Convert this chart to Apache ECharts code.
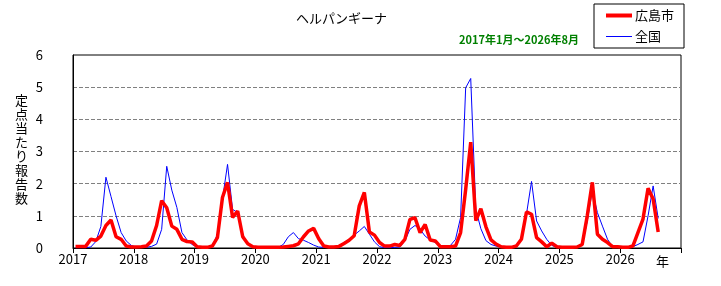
<!DOCTYPE html>
<html>
<head>
<meta charset="utf-8">
<script src="https://cdn.jsdelivr.net/npm/echarts@6/dist/echarts.min.js"></script>
<style>
  html, body { margin: 0; padding: 0; background: #fff; }
  #chart { width: 721px; height: 286px; }
</style>
</head>
<body>
<div id="chart"></div>
<script>
  // monthly values, 2017-01 .. 2026-08
  const hiroshima = [
    0.05, 0.05, 0.05, 0.27, 0.24, 0.37, 0.70, 0.87, 0.35, 0.27, 0.06, 0.03,
    0.03, 0.04, 0.06, 0.22, 0.70, 1.47, 1.25, 0.68, 0.58, 0.27, 0.20, 0.19,
    0.04, 0.02, 0.02, 0.06, 0.32, 1.57, 2.04, 0.95, 1.15, 0.35, 0.13, 0.04,
    0.02, 0.02, 0.02, 0.02, 0.02, 0.03, 0.05, 0.07, 0.13, 0.35, 0.53, 0.61,
    0.29, 0.06, 0.03, 0.03, 0.05, 0.14, 0.24, 0.38, 1.31, 1.73, 0.50, 0.40,
    0.17, 0.06, 0.06, 0.11, 0.08, 0.27, 0.89, 0.94, 0.48, 0.73, 0.25, 0.22,
    0.04, 0.04, 0.04, 0.06, 0.48, 1.82, 3.29, 0.85, 1.22, 0.66, 0.25, 0.12,
    0.04, 0.02, 0.02, 0.06, 0.27, 1.12, 1.05, 0.32, 0.19, 0.04, 0.15, 0.04,
    0.02, 0.02, 0.02, 0.03, 0.11, 1.00, 2.04, 0.43, 0.27, 0.17, 0.04, 0.04,
    0.02, 0.02, 0.06, 0.48, 0.90, 1.86, 1.52, 0.50
  ];
  const national = [
    0.01, 0.01, 0.01, 0.03, 0.20, 0.67, 2.20, 1.60, 1.00, 0.48, 0.22, 0.08,
    0.03, 0.02, 0.02, 0.05, 0.12, 0.58, 2.54, 1.80, 1.26, 0.48, 0.25, 0.11,
    0.03, 0.02, 0.02, 0.04, 0.43, 1.52, 2.60, 1.20, 1.10, 0.42, 0.11, 0.04,
    0.02, 0.02, 0.02, 0.02, 0.02, 0.11, 0.35, 0.48, 0.29, 0.24, 0.17, 0.09,
    0.03, 0.02, 0.01, 0.02, 0.08, 0.17, 0.27, 0.40, 0.53, 0.67, 0.43, 0.19,
    0.04, 0.01, 0.01, 0.02, 0.03, 0.22, 0.58, 0.70, 0.58, 0.37, 0.25, 0.17,
    0.06, 0.04, 0.08, 0.27, 0.95, 4.98, 5.27, 1.20, 0.60, 0.23, 0.11, 0.06,
    0.02, 0.02, 0.02, 0.06, 0.27, 1.05, 2.07, 0.84, 0.53, 0.27, 0.08, 0.02,
    0.02, 0.04, 0.02, 0.04, 0.08, 0.84, 1.80, 1.10, 0.68, 0.27, 0.04, 0.02,
    0.02, 0.02, 0.04, 0.11, 0.19, 1.00, 1.93, 0.92
  ];
  const startYear = 2017;
  const yearCount = 10;
  const seriesNames = ['広島市', '全国'];
  const yName = '定点当たり報告数';

  // each month is plotted at its middle
  const toPoints = arr => arr.map((v, i) => [i + 0.5, v]);

  const font = "'Noto Sans CJK JP', sans-serif";

  const chart = echarts.init(document.getElementById('chart'));
  chart.setOption({
    animation: false,
    textStyle: {fontFamily: font, color: '#000'},
    title: [{
      text: 'ヘルパンギーナ',
      left: 291,
      top: 7,
      textStyle: {fontSize: 13, fontWeight: 'normal', color: '#000', fontFamily: font}
    }, {
      text: '2017年1月～2026年8月',
      left: 454,
      top: 29,
      textStyle: {fontSize: 11, fontWeight: 'bold', color: '#008000', fontFamily: font}
    }],
    legend: {
      data: [
        {name: seriesNames[0], lineStyle: {width: 4}},
        {name: seriesNames[1], lineStyle: {width: 1}}
      ],
      orient: 'vertical',
      left: 594,
      top: 4,
      padding: [5, 10, 5, 10],
      itemGap: 8,
      itemWidth: 26,
      itemHeight: 14,
      borderColor: '#000',
      borderWidth: 1,
      itemStyle: {opacity: 0},
      textStyle: {fontSize: 13, color: '#000', padding: [0, 0, 0, -2]}
    },
    grid: {
      left: 73,
      right: 40,
      top: 55,
      bottom: 38,
      show: true,
      borderColor: '#000',
      borderWidth: 1
    },
    xAxis: {
      type: 'value',
      min: 0,
      max: yearCount * 12,
      interval: 12,
      axisLine: {lineStyle: {color: '#000'}},
      axisTick: {show: true, length: 5, lineStyle: {color: '#000'}},
      axisLabel: {
        fontSize: 13,
        color: '#000',
        margin: 5,
        formatter: v => (v < yearCount * 12 ? String(startYear + v / 12) : '')
      },
      splitLine: {show: false}
    },
    yAxis: {
      type: 'value',
      min: 0,
      max: 6,
      interval: 1,
      axisLine: {show: true, lineStyle: {color: '#000'}},
      axisTick: {show: false},
      axisLabel: {fontSize: 13, color: '#000', margin: 30},
      splitLine: {
        show: true,
        showMinLine: false,
        showMaxLine: false,
        lineStyle: {color: '#808080', type: [4, 2], width: 1}
      }
    },
    graphic: [{
      type: 'text',
      left: 15,
      top: 93,
      style: {
        text: yName.split('').join('\n'),
        fontSize: 13,
        lineHeight: 14,
        fill: '#000',
        fontFamily: font
      }
    }, {
      type: 'text',
      left: 656,
      top: 255,
      style: {text: '年', fontSize: 13, fill: '#000', fontFamily: font}
    }],
    series: [{
      name: seriesNames[0],
      type: 'line',
      data: toPoints(hiroshima),
      showSymbol: false,
      symbol: 'none',
      z: 3,
      color: '#ff0000',
      lineStyle: {color: '#ff0000', width: 3.5}
    }, {
      name: seriesNames[1],
      type: 'line',
      data: toPoints(national),
      showSymbol: false,
      symbol: 'none',
      z: 2,
      color: '#0000ff',
      lineStyle: {color: '#0000ff', width: 1}
    }]
  });
</script>
</body>
</html>
